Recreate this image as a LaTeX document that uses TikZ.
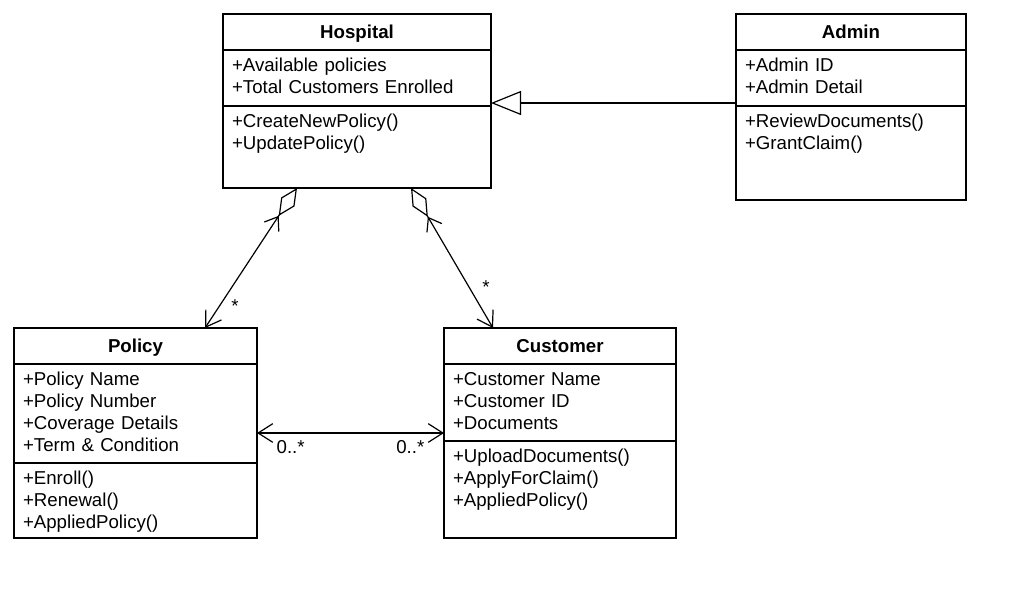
\documentclass[tikz,border=0pt]{standalone}
\usepackage{fontspec}
\setmainfont{Liberation Sans}
\usetikzlibrary{positioning,arrows.meta,calc}

\begin{document}
\begin{tikzpicture}[x=0.75pt,y=-0.75pt,
        font=\fontsize{14}{16.5}\selectfont,
        clshead/.style={draw,line width=1pt,outer sep=0pt,inner sep=0pt,
            minimum height=27pt,text height=10pt,text depth=0pt,
            font=\fontsize{14}{16.5}\selectfont\bfseries},
        clsbody/.style={draw,line width=1pt,outer sep=0pt,align=left,
            inner xsep=6.75pt,inner ysep=0pt,text height=16pt},
        aggnav/.style={line width=0.9pt,
            {Diamond[open,length=25pt,width=12pt] Straight Barb[length=9pt,width=13pt]}-{Straight Barb[length=11pt,width=14pt]}},
        bothnav/.style={line width=0.9pt,
            {Straight Barb[length=11pt,width=14pt]}-{Straight Barb[length=11pt,width=14pt]}},
        gener/.style={line width=0.9pt,-{Triangle[open,length=22.5pt,width=18pt]}}]
        \useasboundingbox (0,0) rectangle (1024,597);
        %% Classes
        \node[clshead,minimum width=201pt,anchor=north west] (hosp) at (223,14) {Hospital};
        \node[clsbody,text width=187.5pt,text depth=26pt,below=0pt of hosp] (hospa)
            {+Available policies\\+Total Customers Enrolled};
        \node[clsbody,text width=187.5pt,text depth=45.5pt,below=0pt of hospa] (hospm)
            {+CreateNewPolicy()\\+UpdatePolicy()};

        \node[clshead,minimum width=172.5pt,anchor=north west] (adm) at (736,14) {Admin};
        \node[clsbody,text width=159pt,text depth=26pt,below=0pt of adm] (adma)
            {+Admin ID\\+Admin Detail};
        \node[clsbody,text width=159pt,text depth=54.5pt,below=0pt of adma] (admm)
            {+ReviewDocuments()\\+GrantClaim()};

        \node[clshead,minimum width=182.25pt,anchor=north west] (pol) at (14,328) {Policy};
        \node[clsbody,text width=168.75pt,text depth=58.25pt,below=0pt of pol] (pola)
            {+Policy Name\\+Policy Number\\+Coverage Details\\+Term \& Condition};
        \node[clsbody,text width=168.75pt,text depth=40.25pt,below=0pt of pola] (polm)
            {+Enroll()\\+Renewal()\\+AppliedPolicy()};

        \node[clshead,minimum width=174pt,anchor=north west] (cust) at (444,328) {Customer};
        \node[clsbody,text width=160.5pt,text depth=41.75pt,below=0pt of cust] (custa)
            {+Customer Name\\+Customer ID\\+Documents};
        \node[clsbody,text width=160.5pt,text depth=56.75pt,below=0pt of custa] (custm)
            {+UploadDocuments()\\+ApplyForClaim()\\+AppliedPolicy()};

        %% Relations
        \draw[aggnav] ($(hospm.south west)+(74,0)$) -- node[pos=.84,right=5pt] (mpol) {*}
            ($(pol.north west)+(191,0)$);
        \draw[aggnav] ($(hospm.south west)+(188,0)$) -- node[pos=.71,right=6pt] (mcust) {*}
            ($(cust.north west)+(49,0)$);
        \coordinate (pc) at ($(pola.south east)+(0,-30)$);
        \draw[bothnav] (pc) -- node[pos=.18,below=2pt] (mpc) {0..*}
            node[pos=.82,below=2pt] (mcp) {0..*} (pc -| custa.west);
        \draw[gener] ($(adma.south west)+(0,-3)$) -- ($(hospa.south east)+(0,-3)$);
    \end{tikzpicture}
\end{document}
